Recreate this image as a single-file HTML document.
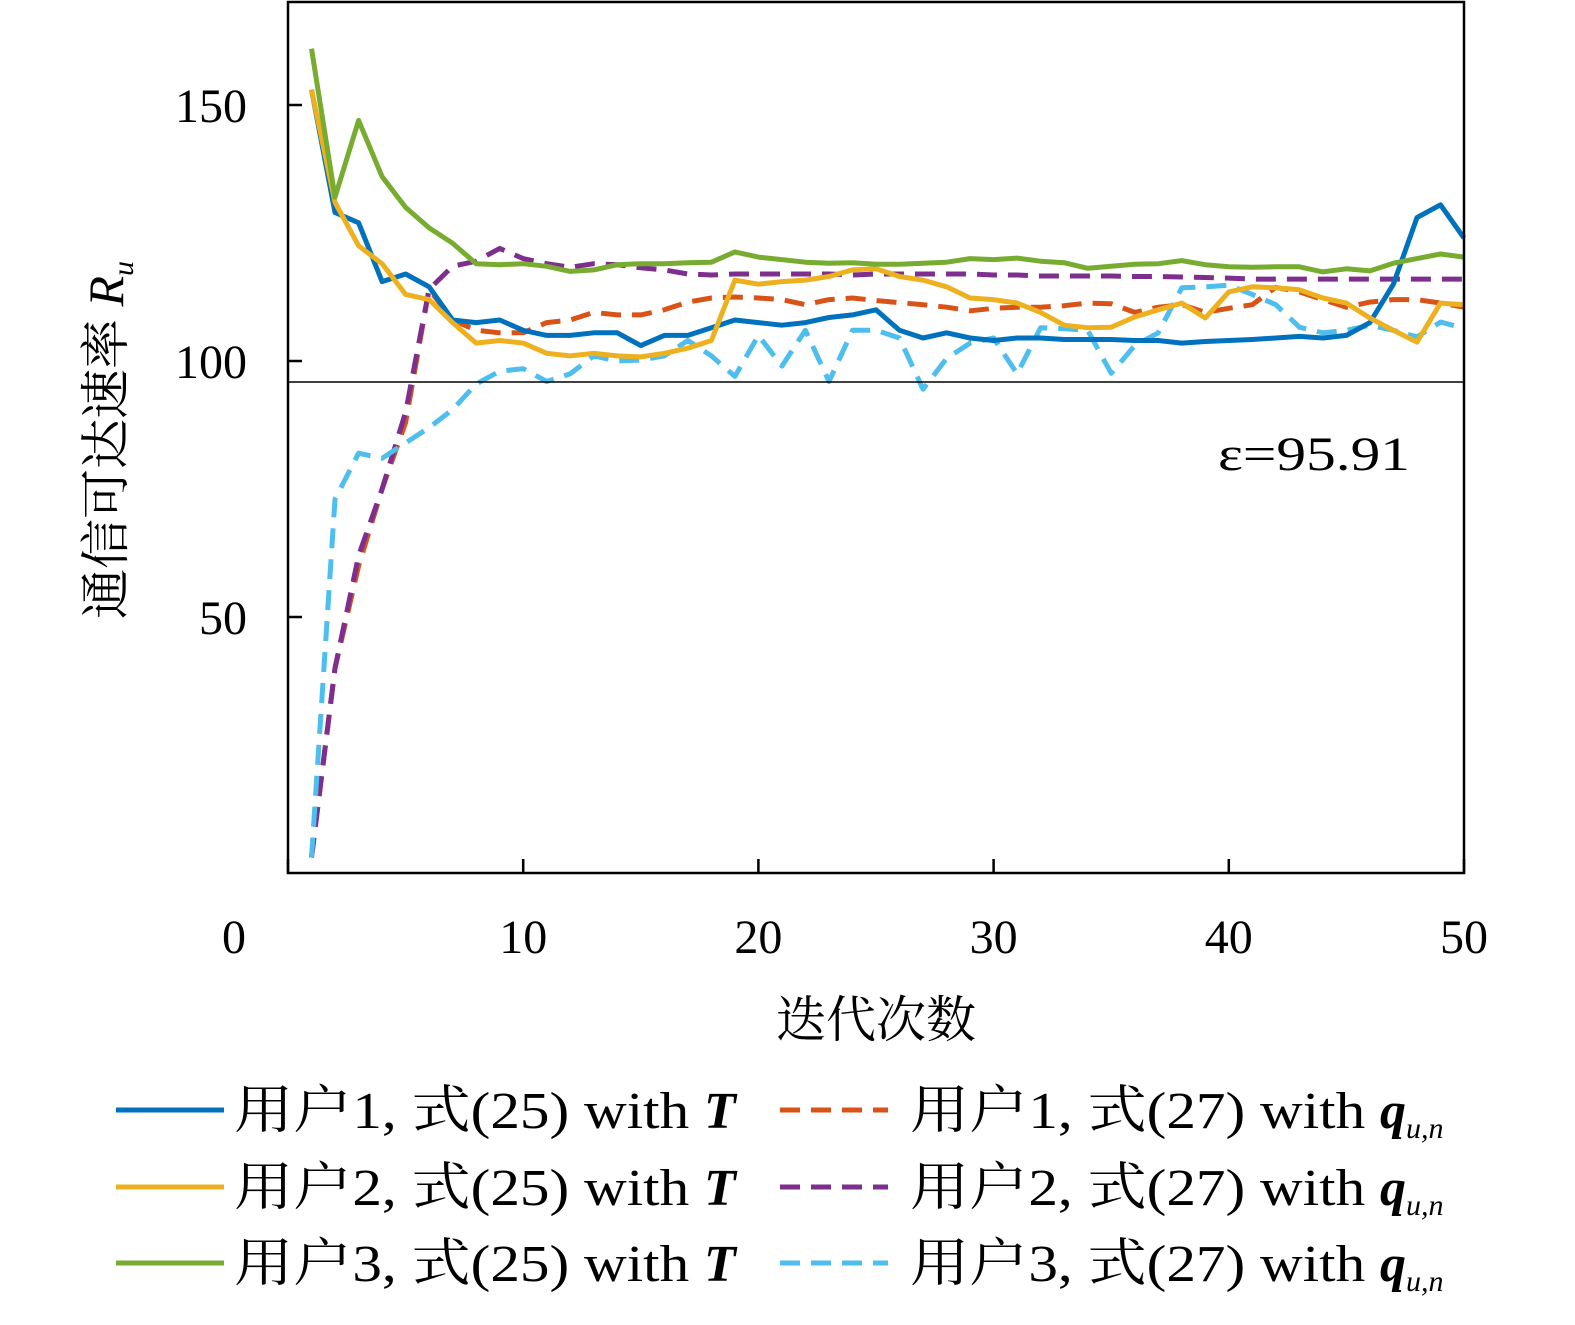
<!DOCTYPE html>
<html><head><meta charset="utf-8"><style>
html,body{margin:0;padding:0;background:#fff;}
svg text{font-family:"Liberation Serif","Noto Serif CJK SC",serif;fill:#000;}
</style></head><body>
<svg id="chart" width="1575" height="1320" viewBox="0 0 1575 1320" xmlns="http://www.w3.org/2000/svg">
<g id="plot"></g>
<g id="axes"></g>
<g id="legend"></g>
</svg>
<script>
const xTicks = [0, 10, 20, 30, 40, 50];
const yTicks = [50, 100, 150];
const threshold = 95.91;
const blue = [153,129,127,115.5,117,114.5,108,107.5,108,106,105,105,105.5,105.5,103,105,105,106.5,108,107.5,107,107.5,108.5,109,110,106,104.5,105.5,104.5,104,104.5,104.5,104.2,104.2,104.2,104,104,103.5,103.8,104,104.2,104.5,104.8,104.5,105,107.5,115,128,130.5,124];
const orange = [3,40,60,75,88,114,108,106,105.5,105.5,107.5,108,109.5,109,109,110,111.5,112.3,112.5,112.3,112,111,112,112.3,111.8,111.4,111,110.5,109.8,110.3,110.5,110.5,110.8,111.3,111.2,109.5,110.5,111,109.5,110.3,111,114.4,113.5,112,110.5,111.5,112,112,111.3,110.5];
const yellow = [153,131,122.5,119,113,112,107.5,103.5,104,103.5,101.5,101,101.5,101,100.8,101.5,102.5,104,115.8,115,115.5,115.8,116.5,117.8,118,116.5,115.8,114.5,112.3,112,111.3,109.5,107,106.5,106.6,108.6,110,111.3,108.4,113.5,114.5,114.3,113.9,112.3,111.3,108.4,106,103.7,111.3,111];
const purple = [3,40,62,75,90,114,118.5,119.5,122,120,119,118.3,119,118.8,118.2,117.8,117,116.8,117,117,117,117,117,116.8,117,117,117,117,117,116.8,116.8,116.6,116.6,116.6,116.6,116.5,116.5,116.4,116.3,116.2,116,116,116,116,116,116,116,116,116,116];
const green = [161,132,147,136,130,126,123,119,118.8,119,118.5,117.5,117.8,118.8,119,119,119.2,119.3,121.3,120.3,119.8,119.3,119.1,119.2,118.9,118.9,119.1,119.3,120,119.8,120.1,119.5,119.2,118.1,118.5,118.9,119,119.6,118.8,118.4,118.3,118.4,118.4,117.4,118,117.6,119.1,120,120.9,120.3];
const cyan = [3,73,82,81,84,87,90.5,95.5,98,98.5,96,97.5,101,100,100.2,101,104,101,97,105,99,106,96,106,106,104.5,94.5,100.5,103.5,104.5,97.5,106.5,106.3,106,97.6,103,105.5,114.3,114.5,114.8,113,111,106.6,105.5,106,107,106,104.7,107.6,106.4];

const NS = "http://www.w3.org/2000/svg";
const X0 = 288, X1 = 1464, Y0 = 873, YT = 2;
const xs = v => X0 + (v - 0) / 50 * (X1 - X0);
const ys = v => Y0 - v * 5.12;
function mk(tag, attrs, parent){ const e = document.createElementNS(NS, tag); for (const k in attrs) e.setAttribute(k, attrs[k]); parent.appendChild(e); return e; }
const plot = document.getElementById('plot');
const axes = document.getElementById('axes');
const legend = document.getElementById('legend');

const series = [
  {name:'user1-eq25-line', data:blue, color:'#0072BD', dash:null},
  {name:'user1-eq27-line', data:orange, color:'#D95319', dash:'20 11'},
  {name:'user2-eq25-line', data:yellow, color:'#EDB120', dash:null},
  {name:'user2-eq27-line', data:purple, color:'#7E2F8E', dash:'20 11'},
  {name:'user3-eq25-line', data:green, color:'#77AC30', dash:null},
  {name:'user3-eq27-line', data:cyan, color:'#4DBEEE', dash:'20 11'}
];
const order = [1,3,5,0,2,4];
order.forEach(i => {
  const s = series[i];
  const d = s.data.map((v, k) => (k ? 'L' : 'M') + xs(k + 1).toFixed(1) + ' ' + ys(v).toFixed(1)).join(' ');
  const p = mk('path', {d: d, fill: 'none', stroke: s.color, 'stroke-width': 5, 'stroke-linejoin': 'round'}, plot);
  if (s.dash) p.setAttribute('stroke-dasharray', s.dash);
  
  
});
const th = mk('line', {x1: X0, x2: X1, y1: ys(threshold), y2: ys(threshold), stroke: '#000', 'stroke-width': 1.5}, plot);


const tl = mk('text', {x: 1218, y: 470, 'font-size': 48, textLength: 192, lengthAdjust: 'spacingAndGlyphs'}, plot);
tl.textContent = 'ε=' + threshold;



const box = mk('rect', {x: X0, y: YT, width: X1 - X0, height: Y0 - YT, fill: 'none', stroke: '#000', 'stroke-width': 2.5}, axes);


xTicks.forEach(t => {
  const x = xs(t);
  const tk = mk('line', {x1: x, x2: x, y1: Y0, y2: Y0 - 14, stroke: '#000', 'stroke-width': 2.5}, axes);
  
  
  const lb = mk('text', {x: t === 0 ? 234 : x, y: 953, 'font-size': 48, 'text-anchor': 'middle'}, axes);
  lb.textContent = t;
  
  
});
yTicks.forEach(t => {
  const y = ys(t);
  const tk = mk('line', {x1: X0, x2: X0 + 14, y1: y, y2: y, stroke: '#000', 'stroke-width': 2.5}, axes);
  
  
  const lb = mk('text', {x: 247, y: y + 17, 'font-size': 48, 'text-anchor': 'end'}, axes);
  lb.textContent = t;
  
  
});
const xt = mk('text', {x: 876, y: 1037, 'font-size': 50, 'text-anchor': 'middle'}, axes);
xt.textContent = '迭代次数';


const yt = mk('text', {x: 0, y: 0, 'font-size': 50, 'text-anchor': 'middle', transform: 'translate(123 440) rotate(-90)'}, axes);
yt.innerHTML = '通信可达速率 <tspan font-style="italic">R</tspan><tspan font-style="italic" font-size="30" dy="10">u</tspan>';



const rowsY = [1110, 1187, 1263];
const legendItems = [
  {s:0, col:0, row:0, label:'用户1, 式(25) with ', sym:'T'},
  {s:1, col:1, row:0, label:'用户1, 式(27) with ', sym:'q'},
  {s:2, col:0, row:1, label:'用户2, 式(25) with ', sym:'T'},
  {s:3, col:1, row:1, label:'用户2, 式(27) with ', sym:'q'},
  {s:4, col:0, row:2, label:'用户3, 式(25) with ', sym:'T'},
  {s:5, col:1, row:2, label:'用户3, 式(27) with ', sym:'q'}
];
legendItems.forEach(it => {
  const s = series[it.s];
  const lx = it.col ? 780 : 116, tx = it.col ? 910 : 234, y = rowsY[it.row];
  const g = mk('g', {}, legend);
  
  
  const ln = mk('line', {x1: lx, x2: lx + 108, y1: y, y2: y, stroke: s.color, 'stroke-width': 5}, g);
  if (s.dash) ln.setAttribute('stroke-dasharray', '20 11');
  
  
  const t = mk('text', {x: tx, y: y + 18, 'font-size': 52}, g);
  if (it.sym === 'T') {
    t.innerHTML = '<tspan textLength="470" lengthAdjust="spacingAndGlyphs">' + it.label + '</tspan><tspan font-style="italic" font-weight="bold"> T</tspan>';
  } else {
    t.innerHTML = '<tspan textLength="470" lengthAdjust="spacingAndGlyphs">' + it.label + '</tspan><tspan font-style="italic" font-weight="bold"> q</tspan><tspan font-style="italic" font-size="30" dy="10">u,n</tspan>';
  }
  
  
});
</script>
</body></html>
